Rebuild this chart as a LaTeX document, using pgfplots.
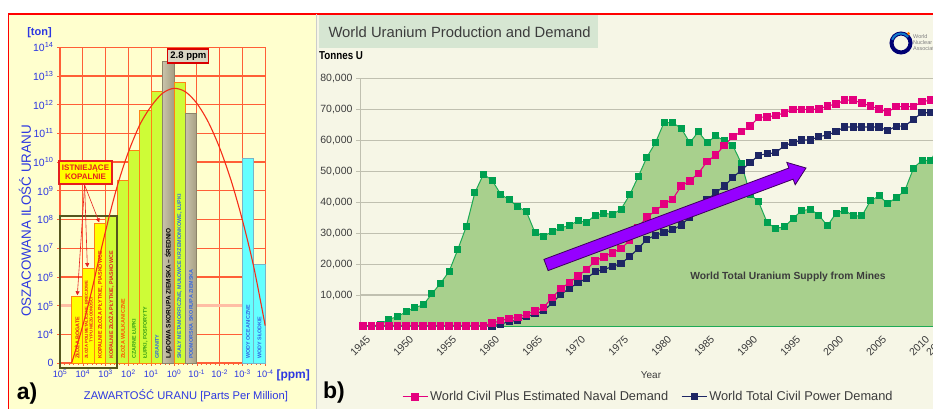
\documentclass[border=0pt]{standalone}
\usepackage{pgfplots}
\pgfplotsset{compat=1.18}
\usepackage{pgfplotstable}
\usepackage{fontspec}
\setmainfont{Liberation Sans}
\usetikzlibrary{arrows.meta}

\definecolor{panelA}{RGB}{255,255,206}
\definecolor{panelB}{RGB}{246,246,230}
\definecolor{gridA}{RGB}{255,95,55}
\definecolor{gridAfive}{RGB}{255,190,165}
\definecolor{blueA}{RGB}{45,55,225}
\definecolor{barYellow}{RGB}{255,255,0}
\definecolor{barLime}{RGB}{206,252,55}
\definecolor{barEdge}{RGB}{255,130,20}
\definecolor{barCyan}{RGB}{100,255,255}
\definecolor{cyanEdge}{RGB}{120,180,200}
\definecolor{tanDark}{RGB}{165,158,130}
\definecolor{tanMid}{RGB}{200,195,170}
\definecolor{tanLight}{RGB}{242,240,228}
\definecolor{tanEdge}{RGB}{140,132,105}
\definecolor{oliveBox}{RGB}{85,85,30}
\definecolor{curveRed}{RGB}{245,45,25}
\definecolor{labRed}{RGB}{230,30,30}
\definecolor{labOrange}{RGB}{255,80,0}
\definecolor{labGreen}{RGB}{55,160,20}
\definecolor{labBlue}{RGB}{50,100,225}
\definecolor{supplyFill}{RGB}{168,208,141}
\definecolor{supplyLine}{RGB}{30,170,85}
\definecolor{supplyMark}{RGB}{0,160,80}
\definecolor{navalPink}{RGB}{228,0,126}
\definecolor{civilNavy}{RGB}{30,38,100}
\definecolor{titleBox}{RGB}{214,230,210}
\definecolor{gridB}{RGB}{192,192,176}
\definecolor{arrowViolet}{RGB}{150,0,255}
\definecolor{arrowEdge}{RGB}{60,0,90}
\definecolor{textB}{RGB}{60,60,60}

% World uranium supply from mines (tonnes U)
\pgfplotstableread{
year value
1945 0
1946 0
1947 500
1948 2200
1949 3000
1950 4600
1951 6000
1952 6800
1953 10400
1954 13800
1955 17600
1956 24600
1957 32100
1958 43100
1959 49100
1960 47200
1961 42700
1962 40800
1963 38600
1964 37000
1965 30200
1966 29100
1967 30500
1968 31800
1969 32500
1970 34100
1971 33500
1972 35900
1973 36500
1974 36100
1975 37800
1976 42400
1977 48300
1978 54600
1979 59300
1980 65800
1981 65800
1982 64000
1983 59300
1984 62900
1985 59300
1986 61500
1987 60000
1988 58400
1989 52600
1990 42700
1991 40200
1992 33400
1993 31600
1994 32100
1995 34800
1996 37300
1997 37800
1998 35900
1999 32400
2000 36500
2001 37500
2002 35600
2003 35600
2004 40500
2005 42100
2006 39700
2007 41500
2008 43800
2009 51000
2010 53700
2011 53500
2012 58400
}\supply

% World civil plus estimated naval demand (tonnes U)
\pgfplotstableread{
year value
1945 0
1946 0
1947 0
1948 0
1949 0
1950 0
1951 0
1952 0
1953 0
1954 0
1955 0
1956 0
1957 0
1958 0
1959 0
1960 900
1961 1700
1962 2500
1963 2800
1964 3800
1965 4900
1966 6000
1967 9200
1968 12100
1969 14000
1970 16200
1971 18300
1972 21100
1973 22400
1974 23700
1975 25100
1976 27600
1977 31900
1978 35200
1979 37300
1980 39500
1981 41000
1982 45300
1983 47000
1984 49400
1985 53200
1986 55300
1987 58400
1988 61300
1989 62900
1990 64700
1991 67500
1992 67700
1993 68100
1994 69000
1995 70100
1996 70100
1997 70100
1998 70200
1999 71200
2000 71800
2001 73100
2002 73100
2003 72100
2004 71200
2005 70200
2006 69200
2007 71000
2008 71000
2009 71000
2010 72600
2011 73100
2012 73500
}\naval

% World total civil power demand (tonnes U)
\pgfplotstableread{
year value
1945 0
1946 0
1947 0
1948 0
1949 0
1950 0
1951 0
1952 0
1953 0
1954 0
1955 0
1956 0
1957 0
1958 0
1959 0
1960 0
1961 600
1962 1400
1963 1900
1964 3000
1965 3900
1966 4900
1967 7500
1968 10200
1969 12200
1970 14000
1971 15400
1972 17600
1973 18300
1974 19200
1975 20300
1976 22400
1977 25100
1978 28000
1979 29400
1980 30200
1981 31100
1982 32700
1983 35200
1984 37800
1985 40800
1986 43100
1987 45300
1988 48000
1989 50500
1990 52800
1991 55300
1992 55700
1993 56100
1994 58400
1995 59300
1996 60200
1997 60200
1998 61300
1999 61800
2000 62900
2001 64400
2002 64400
2003 64400
2004 64400
2005 64400
2006 63200
2007 64700
2008 64700
2009 66900
2010 69000
2011 69000
2012 69500
}\civil

\tikzset{
  barY/.style={fill=barYellow, draw=barEdge, line width=0.8pt},
  barL/.style={fill=barLime, draw=barEdge, line width=0.8pt},
  barT/.style={left color=tanMid, middle color=tanLight, right color=tanDark, draw=tanEdge, line width=0.8pt},
  barC/.style={fill=barCyan, draw=cyanEdge, line width=0.8pt},
  barlab/.style={rotate=90, anchor=west, inner sep=0.5pt, font=\bfseries\fontsize{5.4}{6}\selectfont},
}

\begin{document}
\begin{tikzpicture}
\useasboundingbox (0,0) rectangle (933pt,409pt);
\clip (0,0) rectangle (933pt,409pt);

% panel backgrounds and frame
\begin{scope}[x=1pt, y=-1pt, yshift=409pt]
  \fill[white] (0,0) rectangle (933,409);
  \fill[panelA] (8.5,14) rectangle (316,409);
  \fill[panelB] (316,14) rectangle (933,409);
  \draw[red, line width=1.3pt] (8.5,409) -- (8.5,14) -- (933,14);
  \draw[gray!40, line width=0.8pt] (316,14) -- (316,409);
  % title strip of panel b
  \fill[titleBox] (319,15.5) rectangle (598,48);
\end{scope}

% ---------------- panel a: uranium resources vs. ore grade ----------------
\begin{axis}[
  at={(60pt,46pt)}, anchor=south west,
  scale only axis, width=205.2pt, height=315.7pt,
  xmin=0, xmax=9, ymin=3, ymax=14,
  clip=false,
  axis line style={draw=gridA, line width=1pt},
  grid=major,
  major grid style={draw=gridA, line width=1.3pt},
  tick align=outside, xtick pos=bottom, ytick pos=left,
  major tick length=3pt, minor tick length=2pt,
  minor tick num=4,
  every tick/.style={draw=gridA, line width=0.6pt},
  /pgf/number format/assume math mode=true,
  yticklabel style={text=blueA, font=\fontsize{10.5}{12}\selectfont},
  xticklabel style={text=blueA, font=\fontsize{9.3}{11}\selectfont},
  xtick={0,...,9},
  xticklabels={10\textsuperscript{5},10\textsuperscript{4},10\textsuperscript{3},10\textsuperscript{2},10\textsuperscript{1},10\textsuperscript{0},10\textsuperscript{-1},10\textsuperscript{-2},10\textsuperscript{-3},10\textsuperscript{-4}},
  ytick={3,4,6,7,8,9,10,11,12,13,14},
  yticklabels={0,10\textsuperscript{4},10\textsuperscript{6},10\textsuperscript{7},10\textsuperscript{8},10\textsuperscript{9},10\textsuperscript{10},10\textsuperscript{11},10\textsuperscript{12},10\textsuperscript{13},10\textsuperscript{14}},
  extra y ticks={5},
  extra y tick labels={10\textsuperscript{5}},
  extra y tick style={major grid style={draw=gridAfive, line width=2.6pt}},
]
% bars: log10 of estimated tonnage, half a decade of grade wide
\addplot[barY] coordinates {(0.5,3) (0.5,5.33) (1.0,5.33) (1.0,3)} -- cycle;
\addplot[barY] coordinates {(1.0,3) (1.0,6.31) (1.5,6.31) (1.5,3)} -- cycle;
\addplot[barY] coordinates {(1.5,3) (1.5,7.88) (2.0,7.88) (2.0,3)} -- cycle;
\addplot[barL] coordinates {(2.0,3) (2.0,8.12) (2.5,8.12) (2.5,3)} -- cycle;
\addplot[barL] coordinates {(2.5,3) (2.5,9.35) (3.0,9.35) (3.0,3)} -- cycle;
\addplot[barL] coordinates {(3.0,3) (3.0,10.42) (3.5,10.42) (3.5,3)} -- cycle;
\addplot[barL] coordinates {(3.5,3) (3.5,11.79) (4.0,11.79) (4.0,3)} -- cycle;
\addplot[barL] coordinates {(4.0,3) (4.0,12.45) (4.5,12.45) (4.5,3)} -- cycle;
\addplot[barT] coordinates {(4.5,3) (4.5,13.52) (5.0,13.52) (5.0,3)} -- cycle;
\addplot[barL] coordinates {(5.0,3) (5.0,12.77) (5.5,12.77) (5.5,3)} -- cycle;
\addplot[barT] coordinates {(5.5,3) (5.5,11.70) (6.0,11.70) (6.0,3)} -- cycle;
\addplot[barC] coordinates {(8.0,3) (8.0,10.13) (8.5,10.13) (8.5,3)} -- cycle;
\addplot[barC] coordinates {(8.5,3) (8.5,6.44) (9.0,6.44) (9.0,3)} -- cycle;

% bar captions
\node[barlab, text=labRed] at (axis cs:0.75,3.12) {ZŁOŻA BOGATE};
\node[barlab, text=labRed, align=center, font=\bfseries\fontsize{4.2}{4.6}\selectfont] at (axis cs:1.25,3.12) {ZŁOŻA POLIMETALICZNE, BRECJOWE\\TYPU NIEZGODNOŚCI};
\node[barlab, text=labRed] at (axis cs:1.75,3.12) {KOPALNIE ZŁOŻA PŁYTKIE, PIASKOWCE};
\node[barlab, text=labRed] at (axis cs:2.25,3.12) {KOPALNIE ZŁOŻA PŁYTKIE, PIASKOWCE};
\node[barlab, text=labOrange] at (axis cs:2.75,3.12) {ZŁOŻA WULKANICZNE};
\node[barlab, text=labGreen] at (axis cs:3.25,3.12) {CZARNE ŁUPKI};
\node[barlab, text=labGreen] at (axis cs:3.75,3.12) {ŁUPKI, FOSFORYTY};
\node[barlab, text=labBlue] at (axis cs:4.25,3.12) {GRANITY};
\node[barlab, text=black, font=\bfseries\fontsize{6.5}{7}\selectfont] at (axis cs:4.75,3.12) {LĄDOWA SKORUPA ZIEMSKA -- ŚREDNIO};
\node[barlab, text=labBlue] at (axis cs:5.25,3.12) {SKAŁY METAMORFICZNE, MUŁOWCE KRZEMIONKOWE, ŁUPKI};
\node[barlab, text=labBlue] at (axis cs:5.75,3.12) {PODMORSKA SKORUPA ZIEMSKA};
\node[barlab, text=labBlue] at (axis cs:8.25,3.12) {WODY OCEANICZNE};
\node[barlab, text=labBlue] at (axis cs:8.75,3.12) {WODY SŁODKIE};

% frame round the mined deposits
\draw[oliveBox, line width=1.8pt] (axis cs:0,2.83) rectangle (axis cs:2.5,8.12);

% fitted distribution curve
\addplot[curveRed, line width=1.1pt, smooth] coordinates {
(0.51,3.0) (0.8,3.75) (1.1,4.6) (1.4,5.55) (1.7,6.6) (2.0,7.6) (2.3,8.55)
(2.6,9.4) (3.0,10.35) (3.5,11.3) (4.0,11.95) (4.5,12.4) (5.0,12.57)
(5.5,12.45) (6.0,12.05) (6.5,11.4) (7.0,10.5) (7.5,9.37) (8.0,7.98)
(8.5,6.34) (9.0,4.3)};

% existing mines callout
\draw[labRed, line width=0.6pt, -{Triangle[length=4pt,width=4pt]}] (axis cs:1.08,9.2) -- (axis cs:0.76,5.36);
\draw[labRed, line width=0.6pt, -{Triangle[length=4pt,width=4pt]}] (axis cs:1.08,9.2) -- (axis cs:1.2,6.34);
\draw[labRed, line width=0.6pt, -{Triangle[length=4pt,width=4pt]}] (axis cs:1.08,9.2) -- (axis cs:1.72,7.9);
\node[fill=barYellow, draw=labRed, line width=1.2pt, text=labRed, align=center,
      font=\bfseries\fontsize{8}{9.5}\selectfont, minimum width=53pt, minimum height=23pt, inner sep=1pt]
  at (axis cs:1.12,9.64) {ISTNIEJĄCE\\KOPALNIE};

% average crustal abundance
\node[fill=tanMid!70!white, draw=red!85!black, line width=1.2pt, text=black,
      font=\bfseries\fontsize{9.5}{11}\selectfont, minimum width=41pt, minimum height=14pt, inner sep=1pt]
  at (axis cs:5.63,13.7) {2.8 ppm};
\end{axis}

% ---------------- panel b: world uranium production and demand ----------------
\begin{axis}[
  at={(360pt,83pt)}, anchor=south west,
  scale only axis, width=587.8pt, height=247.2pt,
  xmin=1944.65, xmax=2013, ymin=0, ymax=80000,
  axis lines=left,
  x axis line style={-, draw=supplyLine, line width=1.4pt},
  y axis line style={-, draw=gridB, line width=1pt},
  ymajorgrids,
  major grid style={draw=gridB, line width=1.3pt},
  /pgf/number format/assume math mode=true,
  scaled y ticks=false,
  ytick={10000,20000,...,80000},
  yticklabels={{10,000},{20,000},{30,000},{40,000},{50,000},{60,000},{70,000},{80,000}},
  ytick style={draw=gridB, line width=0.8pt},
  major tick length=4pt,
  tick align=outside,
  xtick={1945,1950,...,2010,2012},
  xticklabels={1945,1950,1955,1960,1965,1970,1975,1980,1985,1990,1995,2000,2005,2010,2012},
  xtick style={draw=none},
  yticklabel style={text=textB, font=\fontsize{10.5}{12}\selectfont},
  xticklabel style={text=textB, font=\fontsize{10.5}{12}\selectfont, rotate=45, anchor=north east, xshift=2pt, yshift=-2pt},
  legend columns=2,
  reverse legend,
  legend style={at={(axis description cs:0.066,-0.287)}, anchor=west, draw=none, fill=none,
    font=\fontsize{12.8}{14}\selectfont, text=textB,
    /tikz/every even column/.append style={column sep=11pt}},
  legend image code/.code={\draw[mark repeat=2, mark phase=2, #1] plot coordinates {(0pt,0pt) (12.5pt,0pt) (25pt,0pt)};},
]
\addplot[fill=supplyFill, draw=none, forget plot] table[x=year, y=value] {\supply} \closedcycle;
\addplot[supplyLine, line width=1pt, mark=square*, mark size=3pt,
  mark options={fill=supplyMark, draw=supplyMark}, forget plot] table[x=year, y=value] {\supply};
\addplot[civilNavy, line width=1.1pt, mark=square*, mark size=3pt,
  mark options={fill=civilNavy, draw=civilNavy}] table[x=year, y=value] {\civil};
\addlegendentry{World Total Civil Power Demand}
\addplot[navalPink, line width=1.1pt, mark=square*, mark size=3.2pt,
  mark options={fill=navalPink, draw=navalPink}] table[x=year, y=value] {\naval};
\addlegendentry{World Civil Plus Estimated Naval Demand}
\end{axis}

% ---------------- texts and annotations ----------------
\begin{scope}[x=1pt, y=-1pt, yshift=409pt]
  % panel a
  \node[text=blueA, font=\bfseries\fontsize{11}{12}\selectfont] at (39.5,33) {[ton]};
  \node[text=blueA, rotate=90, font=\fontsize{13.4}{15}\selectfont] at (25,221) {OSZACOWANA ILOŚĆ URANU};
  \node[text=blueA, anchor=west, font=\bfseries\fontsize{12}{13}\selectfont] at (273,375) {[ppm]};
  \node[text=blueA, font=\fontsize{11.2}{13}\selectfont] at (186,396) {ZAWARTOŚĆ URANU [Parts Per Million]};
  \node[text=black, font=\bfseries\fontsize{23}{25}\selectfont] at (27,394) {a)};

  % panel b
  \node[anchor=west, text=textB, font=\fontsize{14.8}{16}\selectfont] at (325,32) {World Uranium Production and Demand};
  \node[anchor=west, text=black, font=\bfseries\fontsize{11.5}{12}\selectfont, inner sep=0pt, xscale=0.85] at (319,56) {Tonnes U};
  \node[text=textB, font=\fontsize{10}{11}\selectfont] at (651,375) {Year};
  \node[text=black, font=\bfseries\fontsize{23}{25}\selectfont] at (334,393) {b)};
  \node[text=textB, font=\bfseries\fontsize{10.3}{12}\selectfont] at (788,277) {World Total Uranium Supply from Mines};

  % growth arrow
  \filldraw[fill=arrowViolet, draw=arrowEdge, line width=0.8pt, line join=miter]
    (543.9,259.4) -- (788.9,168.0) -- (786.8,162.4) -- (806,168) -- (795.2,184.8)
    -- (793.1,179.2) -- (548.1,270.6) -- cycle;

  % association logo
  \draw[line width=4pt, draw=blue!45!black] (901,43) circle (9.5);
  \draw[line width=2pt, draw=cyan!60!blue] (901,43) ++(200:9.5) arc (200:320:9.5);
  \fill[orange] (908.5,33.5) circle (1.6);
  \node[anchor=west, text=gray, font=\fontsize{5.5}{6}\selectfont, align=left, inner sep=0pt] at (913,43) {World\\Nuclear\\Association};
\end{scope}
\end{tikzpicture}
\end{document}
